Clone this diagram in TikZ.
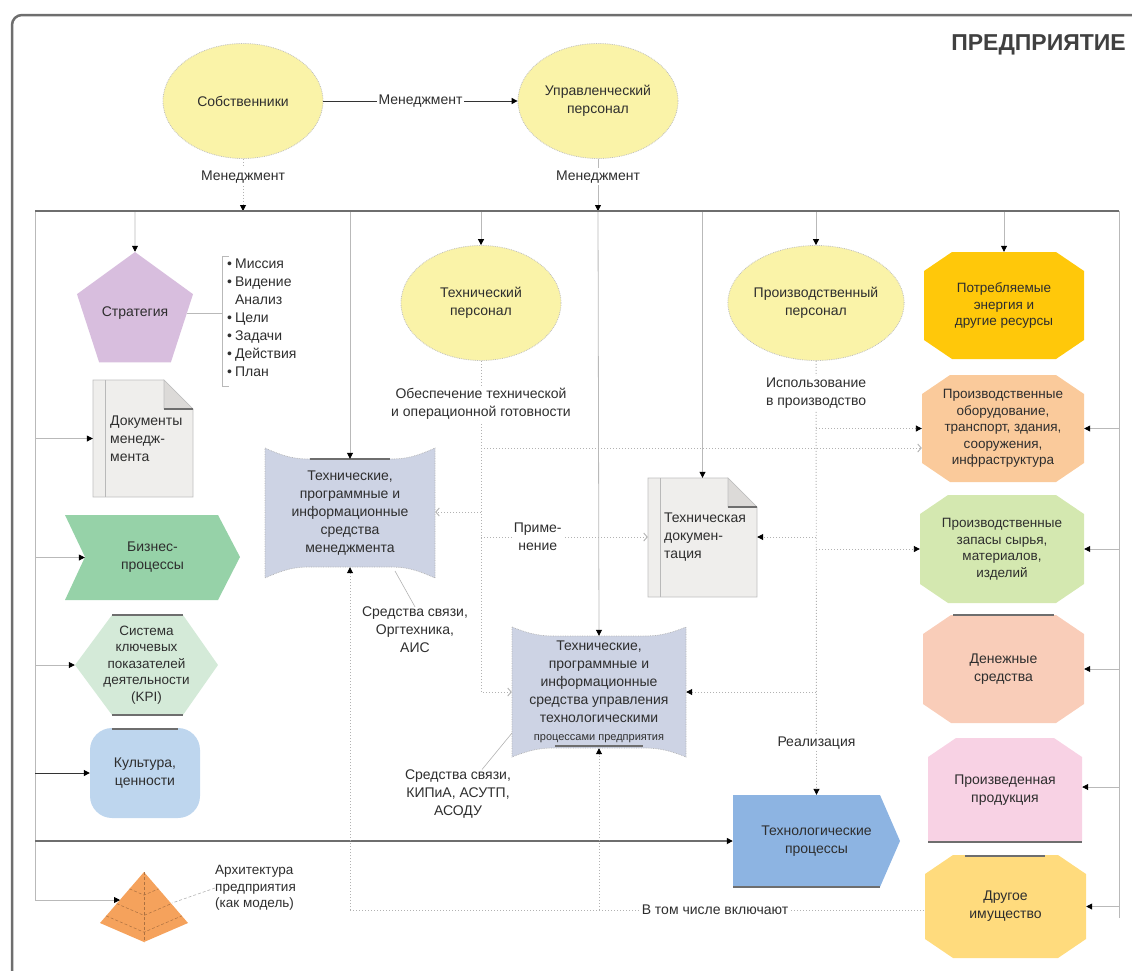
\documentclass[tikz,border=0pt]{standalone}
\usepackage{fontspec}
\setmainfont{Liberation Sans}
\usetikzlibrary{arrows.meta,shapes.geometric,calc}
\definecolor{txt}{HTML}{2E2E2E}
\definecolor{ellf}{HTML}{FAF3A8}
\definecolor{pentf}{HTML}{D8BEDE}
\definecolor{docf}{HTML}{EFEEEC}
\definecolor{foldf}{HTML}{DCDAD8}
\definecolor{bpf}{HTML}{96D2A8}
\definecolor{kpif}{HTML}{D4EAD8}
\definecolor{cultf}{HTML}{BED6EE}
\definecolor{pyrf}{HTML}{F5A25C}
\definecolor{techf}{HTML}{CDD3E4}
\definecolor{procf}{HTML}{8DB4E2}
\definecolor{penf}{HTML}{FFC80A}
\definecolor{pobf}{HTML}{FACA9B}
\definecolor{pzapf}{HTML}{D4E8B0}
\definecolor{monf}{HTML}{F9CDB9}
\definecolor{prodf}{HTML}{F8D2E4}
\definecolor{othf}{HTML}{FFDB7D}
\definecolor{darkln}{HTML}{6E6E6E}
\newcommand{\mydoc}[4]{%
  \filldraw[fill=docf, draw=gray!50, line width=0.6pt] (#1,#2) -- ({#3-29},#2) -- (#3,{#2+29}) -- (#3,#4) -- (#1,#4) -- cycle;
  \filldraw[fill=foldf, draw=gray!50, line width=0.6pt] ({#3-29},#2) -- ({#3-29},{#2+29}) -- (#3,{#2+29}) -- cycle;
  \draw[draw=darkln, line width=2.5pt] ({#3-29},{#2+29}) -- (#3,{#2+29});
  \draw[draw=gray!55, line width=0.6pt] ({#1+12},#2) -- ({#1+12},#4);}
\newcommand{\myoct}[5]{%
  \fill[#1] ({#2+28},#3) -- ({#4-28},#3) -- (#4,{#3+19}) -- (#4,{#5-19}) -- ({#4-28},#5) -- ({#2+28},#5) -- (#2,{#5-19}) -- (#2,{#3+19}) -- cycle;}
\begin{document}
\begin{tikzpicture}[x=1pt,y=-1pt,
  every node/.style={font=\fontsize{14}{18}\selectfont, text=txt, inner sep=0pt, align=center},
  ell/.style={ellipse, fill=ellf, draw=gray!50, densely dotted, line width=0.8pt, minimum width=160pt, minimum height=115pt},
  lbl/.style={fill=white, inner sep=2pt},
  smf/.style={font=\fontsize{13.5}{16.5}\selectfont},
  arr/.style={-{Triangle[length=6pt,width=6pt,color=black]}},
  oarr/.style={-{Straight Barb[length=3.5pt,width=8pt]}},
  thinln/.style={draw=gray!55, line width=0.8pt},
  dotln/.style={draw=gray!60, line width=0.9pt, dash pattern=on 1pt off 2pt},
  thickln/.style={draw=darkln, line width=2.2pt},
  blackln/.style={draw=black!80, line width=1pt},
  leader/.style={draw=gray!60, line width=0.6pt},
  edgebar/.style={draw=darkln, line width=2.5pt},
]
\useasboundingbox (0,0) rectangle (1132,970);
% outer frame
\draw[draw=darkln, line width=2.5pt, rounded corners=10pt] (1150,15) -- (12,15) -- (12,990);

% ---------- shapes drawn directly ----------
\mydoc{93}{380}{193}{497}
\mydoc{648}{478}{757}{597}
\fill[bpf] (65,515) -- (218,515) -- (240,557) -- (218,600) -- (65,600) -- (85,557) -- cycle;
\fill[kpif] (75,665) -- (112,615) -- (183,615) -- (218,665) -- (183,715) -- (112,715) -- cycle;
\draw[edgebar] (112,615) -- (183,615);
\draw[edgebar] (112,715) -- (183,715);
% pyramid
\coordinate (pA) at (144,872);
\coordinate (pL) at (100,923);
\coordinate (pB) at (144,942);
\coordinate (pR) at (188,923);
\fill[pyrf] (pA) -- (pL) -- (pB) -- (pR) -- cycle;
\draw[pyrf!70!black, line width=0.5pt, densely dashed] (pA) -- (pB);
\foreach \t in {0.33,0.62,0.86}{\draw[pyrf!70!black, line width=0.5pt, densely dashed] ($(pA)!\t!(pL)$) -- ($(pA)!\t!(pB)$) -- ($(pA)!\t!(pR)$);}
% technical means of management
\filldraw[fill=techf, draw=gray!60, line width=0.7pt, densely dotted] (265,448) .. controls (285,457) and (295,459) .. (310,459) -- (390,459) .. controls (405,459) and (415,457) .. (435,448) -- (435,578) .. controls (415,569) and (405,567) .. (390,567) -- (310,567) .. controls (295,567) and (285,569) .. (265,578) -- cycle;
\draw[edgebar] (310,459) -- (390,459);
% technical means of process control
\filldraw[fill=techf, draw=gray!60, line width=0.7pt, densely dotted] (512,627) .. controls (532,635) and (542,636) .. (555,636) -- (643,636) .. controls (656,636) and (666,635) .. (686,627) -- (686,757) .. controls (666,749) and (656,748) .. (643,748) -- (555,748) .. controls (542,748) and (532,749) .. (512,757) -- cycle;
\draw[edgebar] (555,746) -- (643,746);
% technological processes
\fill[procf] (733,795) -- (880,795) -- (900,841) -- (880,887) -- (733,887) -- cycle;
\draw[edgebar] (733,887) -- (880,887);
% right column
\myoct{penf}{924}{252}{1084}{359}
\myoct{pobf}{922}{375}{1084}{482}
\myoct{pzapf}{920}{495}{1084}{603}
\myoct{monf}{923}{615}{1084}{723}
\draw[edgebar] (953,615) -- (1054,615);
\fill[prodf] (956,738) -- (1054,738) -- (1082,757) -- (1082,842) -- (928,842) -- (928,757) -- cycle;
\draw[edgebar] (928,842) -- (1082,842);
\myoct{othf}{925}{855}{1086}{958}
\draw[edgebar] (965,856) -- (1045,856);

% ---------- nodes ----------
\node[anchor=east, font=\bfseries\fontsize{23}{26}\selectfont, text=black!75] (ttl) at (1126,45) {ПРЕДПРИЯТИЕ};
\node[ell] (own) at (243,101) {Собственники};
\node[ell] (mgr) at (598,101) {Управленческий\\персонал};
\node[regular polygon, regular polygon sides=5, minimum size=122pt, fill=pentf] (strat) at (135,313) {Стратегия};
\node[minimum width=100pt, minimum height=117pt] (docm) at (143,438.5) {};
\node[anchor=west, align=left] (docmt) at (110,439) {Документы\\менедж-\\мента};
\node[minimum width=175pt, minimum height=85pt] (bp) at (152.5,557.5) {Бизнес-\\процессы};
\node[smf, minimum width=143pt, minimum height=100pt] (kpi) at (146.5,665) {Система\\ключевых\\показателей\\деятельности\\(KPI)};
\node[fill=cultf, rounded corners=22pt, minimum width=110pt, minimum height=90pt] (cult) at (145,773) {Культура,\\ценности};
\draw[edgebar] (112,729) -- (178,729);
\node[smf, anchor=west, align=left] (pyrl) at (215,888) {Архитектура\\предприятия\\(как модель)};
\node[ell] (tper) at (481,303) {Технический\\персонал};
\node[ell] (pper) at (816,303) {Производственный\\персонал};
\node[minimum width=170pt, minimum height=108pt] (tmg) at (350,513) {Технические,\\программные и\\информационные\\средства\\менеджмента};
\node (tmgl) at (415,630) {Средства связи,\\Оргтехника,\\АИС};
\node[minimum width=109pt, minimum height=119pt] (tdoc) at (702.5,537.5) {};
\node[anchor=west, align=left] (tdoct) at (664,537) {Техническая\\докумен-\\тация};
\node[minimum width=174pt, minimum height=112pt] (tpm) at (599,692) {Технические,\\программные и\\информационные\\средства управления\\технологическими\\{\fontsize{11}{17}\selectfont процессами предприятия}};
\node (tpml) at (458,794) {Средства связи,\\КИПиА, АСУТП,\\АСОДУ};
\node[minimum width=167pt, minimum height=92pt] (tproc) at (816.5,841) {Технологические\\процессы};
\node[smf, minimum width=160pt, minimum height=107pt] (pen) at (1004,305.5) {Потребляемые\\энергия и\\другие ресурсы};
\node[smf, minimum width=162pt, minimum height=107pt] (pob) at (1003,428.5) {Производственные\\оборудование,\\транспорт, здания,\\сооружения,\\инфраструктура};
\node[smf, minimum width=164pt, minimum height=108pt] (pzap) at (1002,549) {Производственные\\запасы сырья,\\материалов,\\изделий};
\node[minimum width=161pt, minimum height=108pt] (money) at (1003.5,669) {Денежные\\средства};
\node[minimum width=154pt, minimum height=104pt] (prod) at (1005,790) {Произведенная\\продукция};
\node[minimum width=161pt, minimum height=103pt] (other) at (1005.5,906.5) {Другое\\имущество};
% bullet list
\node[anchor=north west, align=left] (lst) at (227,256) {\begin{tabular}{@{}l@{\hspace{3pt}}l@{}}
•&Миссия\\ •&Видение\\ &Анализ\\ •&Цели\\ •&Задачи\\ •&Действия\\ •&План\end{tabular}};

% ---------- coordinates ----------
\coordinate (tl) at (35,211);
\coordinate (tr) at (1119,211);
\coordinate (br) at (1119,918);
\coordinate (lb) at (35,900);
\coordinate (pyrin) at (120,900);
\coordinate (j1) at (243,211);
\coordinate (j2) at (598,211);
\coordinate (t1) at (135,211);
\coordinate (t2) at (350,211);
\coordinate (t3) at (481,211);
\coordinate (t4) at (598,211);
\coordinate (t5) at (702.5,211);
\coordinate (t6) at (816,211);
\coordinate (t7) at (1004,211);
\coordinate (l1) at (35,438.5);
\coordinate (l2) at (35,557.5);
\coordinate (l3) at (35,665);
\coordinate (l4) at (35,773);
\coordinate (l5) at (35,841);
\coordinate (brt) at (222,256);
\coordinate (brb) at (222,386);
\coordinate (dA) at (481,448);
\coordinate (dB) at (481,512);
\coordinate (dC) at (481,537);
\coordinate (dT) at (481,692);
\coordinate (p1) at (816,428.5);
\coordinate (p2) at (816,537);
\coordinate (p3) at (816,549);
\coordinate (p4) at (816,692);
\coordinate (r1) at (1119,428.5);
\coordinate (r2) at (1119,549);
\coordinate (r3) at (1119,669);
\coordinate (r4) at (1119,787);
\coordinate (r5) at (1119,906.5);
\coordinate (b1) at (350,910);
\coordinate (b2) at (599,910);
\coordinate (ld1) at (395,571);
\coordinate (ld2) at (512,733);
\coordinate (pyrside) at (172,903);

% ---------- connectors ----------
\draw[thinln, arr] (tl) -- (lb) -- (pyrin);
\draw[thinln] (tr) -- (br);
\draw[blackln, arr] (own) -- node[lbl]{Менеджмент} (mgr);
\draw[dotln, arr] (own) -- node[lbl, pos=0.34]{Менеджмент} (j1);
\draw[thinln, arr] (mgr) -- node[lbl, pos=0.34]{Менеджмент} (j2);
\draw[thinln, arr] (t1) -- (strat.north);
\draw[thinln, arr] (t2) -- (tmg.north);
\draw[thinln, arr] (t3) -- (tper.north);
\draw[thinln, arr] (t4) -- (tpm.north);
\draw[thinln, arr] (t5) -- (tdoc.north);
\draw[thinln, arr] (t6) -- (pper.north);
\draw[thinln, arr] (t7) -- (pen.north);
\draw[thickln] (tl) -- (tr);
% left side
\draw[thinln, arr] (l1) -- (docm.west);
\draw[thinln, arr] (l2) -- ([xshift=20pt]bp.west);
\draw[thinln, arr] (l3) -- (kpi.west);
\draw[blackln, arr] (l4) -- (cult.west);
\draw[thickln, arr] (l5) -- (tproc.west);
% strategy bracket
\draw[thinln] ([xshift=7pt]brt) -- (brt) -- (brb) -- ([xshift=7pt]brb);
\draw[thinln] (strat.east) -- (strat.east -| brt);
% technical personnel
\draw[dotln, oarr] (tper) -- node[lbl, pos=0.13]{Обеспечение технической\\и операционной готовности} (dT) -- (tpm.west);
\draw[dotln, oarr] (dA) -- (dA -| pob.west);
\draw[dotln, oarr] (dB) -- (dB -| tmg.east);
\draw[dotln, oarr] (dC) -- node[lbl, pos=0.34]{Приме-\\нение} (dC -| tdoc.west);
% production personnel
\draw[dotln, arr] (pper) -- node[lbl, pos=0.075]{Использование\\в производство} node[lbl, pos=0.88]{Реализация} (tproc.north);
\draw[dotln, arr] (p1) -- (pob.west);
\draw[dotln, arr] (p2) -- (p2 -| tdoc.east);
\draw[dotln, arr] (p3) -- (pzap.west);
\draw[dotln, arr] (p4) -- (tpm.east);
% right side
\draw[thinln, arr] (r1) -- (pob.east);
\draw[thinln, arr] (r2) -- (pzap.east);
\draw[thinln, arr] (r3) -- (money.east);
\draw[thinln, arr] (r4) -- (r4 -| prod.east);
\draw[thinln, arr] (r5) -- (other.east);
% bottom dotted
\draw[dotln] (b1) -- node[lbl, pos=0.635]{В том числе включают} (b1 -| other.west);
\draw[dotln, arr] (b1) -- (tmg.south);
\draw[dotln, arr] (b2) -- (tpm.south);
% leaders
\draw[leader] (ld1) -- (tmgl.north);
\draw[leader] (ld2) -- ([xshift=24pt]tpml.north);
\draw[leader, densely dashed] (pyrl.west) -- (pyrside);
\end{tikzpicture}
\end{document}
